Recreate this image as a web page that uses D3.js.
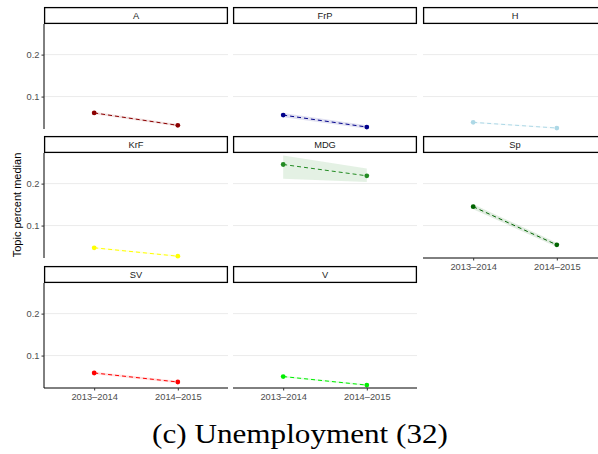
<!DOCTYPE html>
<html>
<head>
<meta charset="utf-8">
<script src="https://cdn.jsdelivr.net/npm/d3@7"></script>
<style>
  body { margin: 0; background: #fff; }
  svg { display: block; }
</style>
</head>
<body>
<div id="chart"></div>
<script>
// facet data
const parties = ['A', 'FrP', 'H', 'KrF', 'MDG', 'Sp', 'SV', 'V'];
const partyColors = ['#8B0000', '#00008B', '#ADD8E6', '#FFFF00', '#228B22', '#006400', '#FF0000', '#00EE00'];
const periods = ['2013\u20132014', '2014\u20132015'];
const medianStart = [0.061, 0.0558, 0.0385, 0.047, 0.2456, 0.145, 0.0585, 0.050];
const medianEnd = [0.0314, 0.0274, 0.025, 0.027, 0.2186, 0.054, 0.037, 0.0296];
const lowerStart = [0.058, 0.0505, 0.0365, 0.045, 0.2116, 0.139, 0.0555, 0.048];
const upperStart = [0.064, 0.0610, 0.0405, 0.049, 0.2670, 0.151, 0.0615, 0.052];
const lowerEnd = [0.0285, 0.0235, 0.023, 0.025, 0.2037, 0.049, 0.034, 0.0275];
const upperEnd = [0.0345, 0.0315, 0.027, 0.029, 0.2360, 0.059, 0.040, 0.0315];
const yTicks = [0.1, 0.2];

const width = 598, height = 454;
const colX = [44, 233, 423];
const stripTop = [7, 136, 266];
const panelW = 184, stripH = 17, panelH = 105;
const sans = "'Liberation Sans', Arial, Helvetica, sans-serif";

const svg = d3.select('#chart').append('svg')
  .attr('width', width)
  .attr('height', height);

const x = d3.scalePoint().domain(periods).range([0, panelW]).padding(0.6);
const y = d3.scaleLinear().domain([0.0227, 0.273]).range([panelH, 0]);

const nCol = 3;

parties.forEach((p, i) => {
  const c = i % nCol, r = Math.floor(i / nCol);
  const g = svg.append('g').attr('transform', `translate(${colX[c]},${stripTop[r]})`);
  const panel = g.append('g').attr('transform', `translate(0,${stripH})`);

  // grid
  panel.selectAll('.grid')
    .data(yTicks)
    .enter().append('line')
    .attr('x1', 0).attr('x2', panelW)
    .attr('y1', d => y(d)).attr('y2', d => y(d))
    .attr('stroke', '#ebebeb')
    .attr('stroke-width', 1);

  const pts = [
    { t: periods[0], v: medianStart[i], lo: lowerStart[i], hi: upperStart[i] },
    { t: periods[1], v: medianEnd[i], lo: lowerEnd[i], hi: upperEnd[i] }
  ];

  const area = d3.area()
    .x(d => x(d.t))
    .y0(d => y(d.lo))
    .y1(d => y(d.hi));
  panel.append('path')
    .attr('d', area(pts))
    .attr('fill', partyColors[i])
    .attr('fill-opacity', 0.12);

  const line = d3.line().x(d => x(d.t)).y(d => y(d.v));
  panel.append('path')
    .attr('d', line(pts))
    .attr('fill', 'none')
    .attr('stroke', partyColors[i])
    .attr('stroke-width', 1)
    .attr('stroke-dasharray', '4,3');

  panel.selectAll('.pt')
    .data(pts)
    .enter().append('circle')
    .attr('cx', d => x(d.t))
    .attr('cy', d => y(d.v))
    .attr('r', 2.4)
    .attr('fill', partyColors[i]);

  // strip
  g.append('rect')
    .attr('x', 0.6).attr('y', 0.6)
    .attr('width', panelW - 1.2).attr('height', stripH - 1.2)
    .attr('fill', '#fff')
    .attr('stroke', '#000')
    .attr('stroke-width', 1.3);
  g.append('text')
    .attr('x', panelW / 2).attr('y', stripH / 2 + 3.3)
    .attr('text-anchor', 'middle')
    .style('font-family', sans)
    .style('font-size', '9.3px')
    .style('fill', '#1a1a1a')
    .text(p);

  // y axis on first column
  if (c === 0) {
    const ya = panel.append('g')
      .call(d3.axisLeft(y).tickValues(yTicks).tickSize(2.5).tickPadding(2).tickFormat(d3.format('.1f')));
    ya.select('.domain').attr('stroke', '#000').attr('d', `M0,0V${panelH}`);
    ya.selectAll('.tick line').attr('stroke', '#333');
    ya.selectAll('.tick text')
      .style('font-family', sans)
      .style('font-size', '9.3px')
      .style('fill', '#4d4d4d');
  }

  // x axis on last panel of each column
  if (i + nCol >= parties.length) {
    const xa = panel.append('g')
      .attr('transform', `translate(0,${panelH})`)
      .call(d3.axisBottom(x).tickSize(2.5).tickPadding(3));
    xa.select('.domain').attr('stroke', '#000').attr('d', `M0,0H${panelW}`);
    xa.selectAll('.tick line').attr('stroke', '#333');
    xa.selectAll('.tick text')
      .style('font-family', sans)
      .style('font-size', '9.3px')
      .style('fill', '#4d4d4d');
  }
});

// y label
svg.append('text')
  .attr('transform', 'translate(21,205) rotate(-90)')
  .attr('text-anchor', 'middle')
  .style('font-family', sans)
  .style('font-size', '11px')
  .style('fill', '#000')
  .text('Topic percent median');

// caption
svg.append('text')
  .attr('x', 300).attr('y', 443)
  .attr('text-anchor', 'middle')
  .attr('textLength', 296)
  .attr('lengthAdjust', 'spacingAndGlyphs')
  .style('font-family', "'Liberation Serif', 'DejaVu Serif', serif")
  .style('font-size', '27px')
  .style('fill', '#000')
  .text('(c) Unemployment (32)');
</script>
</body>
</html>
